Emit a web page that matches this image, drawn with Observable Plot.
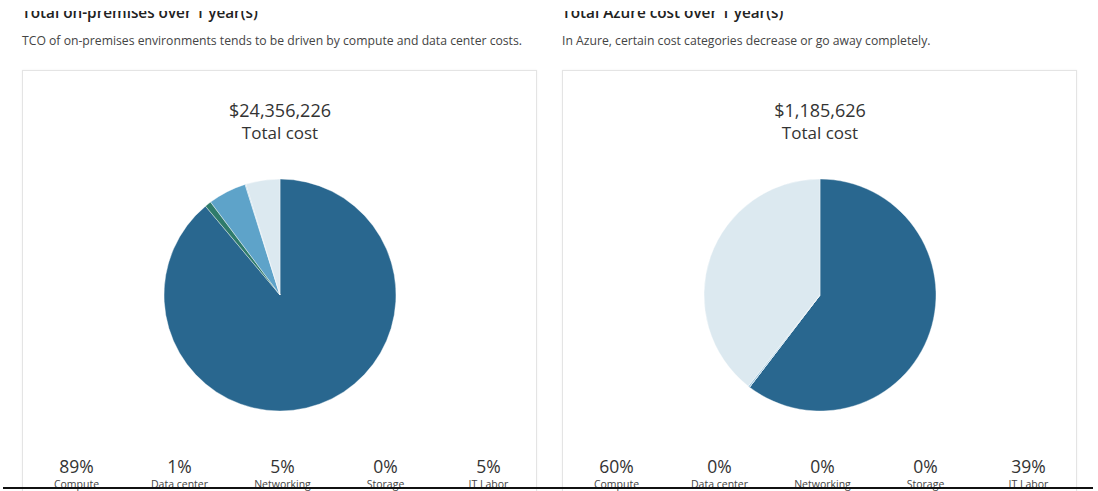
<!DOCTYPE html>
<html><head><meta charset="utf-8">
<script src="https://cdn.jsdelivr.net/npm/d3@7"></script>
<script src="https://cdn.jsdelivr.net/npm/@observablehq/plot@0.6"></script>
<style>
html,body{margin:0;padding:0;background:#fff}
body{width:1098px;height:491px;overflow:hidden;position:relative;font-family:"Open Sans",sans-serif}
.title{position:absolute;top:2px;font-size:15.3px;font-weight:600;color:#222;line-height:20px;white-space:nowrap}
.sub{position:absolute;top:35px;font-size:12.2px;color:#444;line-height:12px;white-space:nowrap}
.card{position:absolute;top:70px;width:513px;height:440px;border:1px solid #e4e4e4;box-shadow:0 0 2px rgba(0,0,0,0.06);background:#fff}
.card svg{position:absolute;left:0;top:0}
.mask{position:absolute;left:0;top:0;width:1098px;height:11px;background:#fff}
.rule{position:absolute;left:3px;top:487px;width:1090px;height:2px;background:#111}
</style></head>
<body>
<div class="title" style="left:22px">Total on-premises over 1 year(s)</div>
<div class="sub" style="left:22px">TCO of on-premises environments tends to be driven by compute and data center costs.</div>
<div class="card" id="c1" style="left:22px"></div>
<div class="title" style="left:562px">Total Azure cost over 1 year(s)</div>
<div class="sub" style="left:562px">In Azure, certain cost categories decrease or go away completely.</div>
<div class="card" id="c2" style="left:562px"></div>
<div class="mask"></div>
<div class="rule"></div>
<script>
const categories = ["Compute", "Data center", "Networking", "Storage", "IT Labor"];
const onPremCosts = [21650226, 220000, 1300000, 30000, 1156000];
const azureCosts = [716000, 0, 0, 2626, 467000];
const onPremTotal = 24356226;
const azureTotal = 1185626;
const colors = ["#29678f", "#2f7b6b", "#5ea3c9", "#9cc6de", "#dce9f0"];

function panel(costs, total) {
  const rows = categories.map((c, i) => ({category: c, cost: costs[i], share: costs[i] / total}));
  const W = 513, H = 421;
  const pieMark = (index, scales, values, dims) => {
    const arcs = d3.pie().sort(null).value(d => d.cost)(rows);
    const arc = d3.arc().innerRadius(0).outerRadius(116);
    const g = d3.create("svg:g").attr("transform", `translate(${dims.width / 2 + 0.5},224)`);
    g.selectAll("path").data(arcs).join("path")
      .attr("d", arc)
      .attr("fill", d => scales.color(d.data.category))
      .attr("stroke", "#fff").attr("stroke-width", 0.4);
    return g.node();
  };
  return Plot.plot({
    width: W, height: H, margin: 0,
    x: {type: "point", domain: categories, range: [51.5, 465.5], padding: 0, axis: null},
    color: {domain: categories, range: colors},
    style: {fontFamily: "'Open Sans', sans-serif", color: "#333", background: "transparent"},
    marks: [
      Plot.text([d3.format("$,")(total)], {text: d => d, frameAnchor: "top", lineAnchor: "middle", dy: 39.5, fontSize: 18, fill: "#333"}),
      Plot.text(["Total cost"], {text: d => d, frameAnchor: "top", lineAnchor: "middle", dy: 62, fontSize: 17, fill: "#333"}),
      pieMark,
      Plot.text(rows, {x: "category", text: d => Math.round(d.share * 100) + "%", frameAnchor: "bottom", lineAnchor: "middle", dy: -25, fontSize: 17.5, fill: "#333"}),
      Plot.text(rows, {x: "category", text: "category", frameAnchor: "bottom", lineAnchor: "middle", dy: -8, fontSize: 10.5, fill: "#444"})
    ]
  });
}
document.getElementById("c1").appendChild(panel(onPremCosts, onPremTotal));
document.getElementById("c2").appendChild(panel(azureCosts, azureTotal));
</script>
</body></html>
